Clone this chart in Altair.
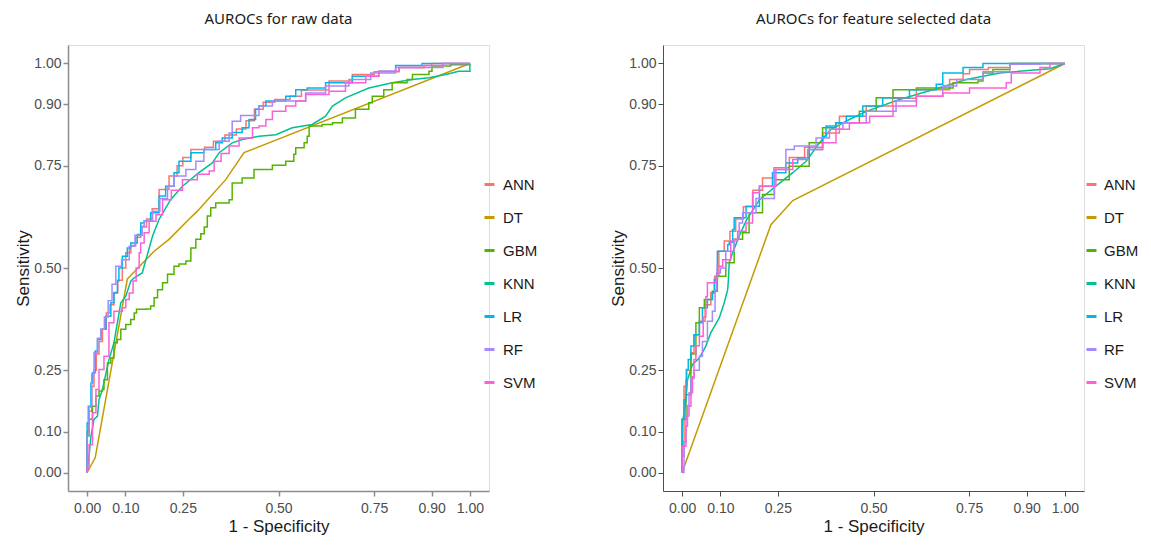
import altair as alt
import pandas as pd

MODELS = ["ANN", "DT", "GBM", "KNN", "LR", "RF", "SVM"]
COLORS = ["#F8766D", "#C49A00", "#53B400", "#00C094", "#00B6EB", "#A58AFF", "#FB61D7"]
TICKS = [0.0, 0.10, 0.25, 0.50, 0.75, 0.90, 1.00]
STEPPED = ["ANN", "GBM", "LR", "RF", "SVM"]
SMOOTH = ["DT", "KNN"]

# ---- raw data panel: (1 - specificity, sensitivity)
RAW_ANN = [(0, 0), (0, 0.10), (0.005, 0.15), (0.012, 0.21), (0.018, 0.25), (0.024, 0.29), (0.031, 0.32),
           (0.04, 0.35), (0.05, 0.39), (0.06, 0.41), (0.07, 0.44), (0.08, 0.47), (0.092, 0.50), (0.101, 0.537),
           (0.114, 0.555), (0.127, 0.575), (0.14, 0.60), (0.155, 0.62), (0.17, 0.645), (0.188, 0.692),
           (0.214, 0.725), (0.235, 0.75), (0.25, 0.77), (0.271, 0.79), (0.307, 0.795), (0.33, 0.81),
           (0.36, 0.825), (0.39, 0.84), (0.415, 0.86), (0.437, 0.888), (0.46, 0.905), (0.49, 0.912),
           (0.53, 0.92), (0.56, 0.935), (0.632, 0.957), (0.693, 0.973), (0.75, 0.98), (0.815, 0.99),
           (0.88, 0.995), (0.9, 1.0), (1, 1)]
RAW_DT = [(0, 0), (0.021, 0.036), (0.105, 0.473), (0.175, 0.541), (0.214, 0.570), (0.266, 0.619),
          (0.288, 0.639), (0.362, 0.716), (0.41, 0.782), (1, 1)]
RAW_GBM = [(0, 0), (0, 0.09), (0.005, 0.13), (0.014, 0.162), (0.023, 0.187), (0.031, 0.199), (0.04, 0.203),
           (0.044, 0.227), (0.053, 0.268), (0.062, 0.28), (0.07, 0.317), (0.079, 0.325), (0.088, 0.35),
           (0.101, 0.362), (0.114, 0.374), (0.123, 0.39), (0.129, 0.399), (0.153, 0.40), (0.166, 0.407),
           (0.175, 0.427), (0.184, 0.447), (0.197, 0.464), (0.21, 0.485), (0.227, 0.504), (0.24, 0.51),
           (0.258, 0.517), (0.271, 0.549), (0.284, 0.57), (0.297, 0.584), (0.306, 0.60), (0.314, 0.627),
           (0.323, 0.647), (0.336, 0.659), (0.371, 0.667), (0.379, 0.708), (0.405, 0.72), (0.436, 0.741),
           (0.484, 0.751), (0.519, 0.761), (0.54, 0.778), (0.545, 0.794), (0.567, 0.806), (0.575, 0.822),
           (0.58, 0.847), (0.614, 0.851), (0.641, 0.855), (0.667, 0.867), (0.701, 0.888), (0.736, 0.904),
           (0.745, 0.92), (0.775, 0.936), (0.797, 0.953), (0.836, 0.961), (0.85, 0.973), (0.893, 0.981),
           (0.901, 0.994), (0.95, 0.997), (1, 1)]
RAW_KNN = [(0, 0), (0.005, 0.04), (0.01, 0.089), (0.018, 0.13), (0.027, 0.138), (0.031, 0.178), (0.04, 0.203),
           (0.057, 0.276), (0.07, 0.317), (0.088, 0.415), (0.101, 0.431), (0.114, 0.468), (0.123, 0.476),
           (0.144, 0.488), (0.171, 0.578), (0.188, 0.619), (0.218, 0.667), (0.249, 0.70), (0.292, 0.733),
           (0.327, 0.757), (0.345, 0.782), (0.379, 0.806), (0.405, 0.814), (0.449, 0.822), (0.493, 0.826),
           (0.536, 0.843), (0.588, 0.851), (0.623, 0.871), (0.641, 0.896), (0.675, 0.916), (0.736, 0.94),
           (0.797, 0.953), (0.85, 0.961), (0.893, 0.965), (0.937, 0.973), (0.971, 0.981), (1.0, 0.981), (1, 1)]
RAW_LR = [(0, 0), (0, 0.121), (0.003, 0.162), (0.01, 0.219), (0.014, 0.244), (0.021, 0.297), (0.027, 0.325),
          (0.036, 0.35), (0.049, 0.382), (0.062, 0.415), (0.07, 0.439), (0.079, 0.468), (0.083, 0.50),
          (0.092, 0.529), (0.105, 0.549), (0.114, 0.561), (0.131, 0.582), (0.14, 0.61), (0.149, 0.615),
          (0.166, 0.635), (0.188, 0.676), (0.205, 0.70), (0.227, 0.733), (0.24, 0.761), (0.271, 0.782),
          (0.305, 0.79), (0.336, 0.806), (0.353, 0.818), (0.379, 0.831), (0.405, 0.843), (0.423, 0.863),
          (0.44, 0.888), (0.449, 0.896), (0.467, 0.908), (0.519, 0.92), (0.545, 0.936), (0.575, 0.94),
          (0.623, 0.953), (0.693, 0.969), (0.762, 0.981), (0.806, 0.995), (0.875, 1.0), (1, 1)]
RAW_RF = [(0, 0), (0, 0.089), (0.005, 0.16), (0.012, 0.24), (0.018, 0.293), (0.027, 0.328), (0.036, 0.35),
          (0.045, 0.38), (0.055, 0.42), (0.065, 0.46), (0.075, 0.504), (0.09, 0.52), (0.11, 0.553),
          (0.125, 0.58), (0.144, 0.602), (0.149, 0.615), (0.171, 0.639), (0.19, 0.67), (0.21, 0.70),
          (0.227, 0.725), (0.258, 0.741), (0.284, 0.761), (0.305, 0.79), (0.345, 0.81), (0.371, 0.83),
          (0.379, 0.859), (0.401, 0.873), (0.432, 0.873), (0.449, 0.896), (0.484, 0.908), (0.571, 0.928),
          (0.623, 0.945), (0.684, 0.961), (0.741, 0.977), (0.806, 0.99), (0.93, 1.0), (1, 1)]
RAW_SVM = [(0, 0), (0, 0.01), (0.005, 0.068), (0.014, 0.146), (0.023, 0.203), (0.031, 0.252), (0.044, 0.284),
           (0.057, 0.366), (0.07, 0.394), (0.092, 0.403), (0.101, 0.423), (0.11, 0.439), (0.12, 0.468),
           (0.128, 0.50), (0.136, 0.537), (0.14, 0.561), (0.149, 0.586), (0.162, 0.614), (0.18, 0.63),
           (0.197, 0.667), (0.22, 0.69), (0.249, 0.716), (0.288, 0.729), (0.319, 0.737), (0.332, 0.761),
           (0.35, 0.78), (0.371, 0.798), (0.397, 0.818), (0.432, 0.843), (0.449, 0.847), (0.467, 0.863),
           (0.484, 0.883), (0.519, 0.896), (0.545, 0.908), (0.571, 0.924), (0.632, 0.932), (0.675, 0.953),
           (0.728, 0.969), (0.762, 0.981), (0.815, 0.99), (0.88, 0.995), (0.93, 1.0), (1, 1)]

# ---- feature selected panel
FS_ANN = [(0, 0), (0, 0.04), (0.005, 0.211), (0.012, 0.25), (0.023, 0.293), (0.031, 0.337), (0.045, 0.37),
          (0.06, 0.41), (0.075, 0.44), (0.085, 0.48), (0.096, 0.541), (0.11, 0.566), (0.125, 0.59),
          (0.14, 0.62), (0.16, 0.65), (0.185, 0.69), (0.21, 0.72), (0.24, 0.745), (0.28, 0.77),
          (0.32, 0.795), (0.367, 0.83), (0.411, 0.871), (0.481, 0.896), (0.55, 0.915), (0.612, 0.936),
          (0.699, 0.961), (0.734, 0.975), (0.751, 0.985), (0.8, 0.99), (0.856, 1.0), (1, 1)]
FS_DT = [(0, 0), (0.232, 0.606), (0.289, 0.665), (1, 1)]
FS_GBM = [(0, 0), (0, 0.13), (0.01, 0.19), (0.023, 0.29), (0.036, 0.366), (0.045, 0.403), (0.058, 0.423),
          (0.079, 0.443), (0.092, 0.48), (0.114, 0.513), (0.136, 0.57), (0.158, 0.586), (0.175, 0.635),
          (0.21, 0.68), (0.241, 0.716), (0.28, 0.749), (0.332, 0.806), (0.367, 0.843), (0.402, 0.855),
          (0.463, 0.883), (0.507, 0.916), (0.551, 0.936), (0.612, 0.94), (0.708, 0.953), (0.773, 0.957),
          (0.786, 0.977), (0.812, 0.985), (0.856, 1.0), (1, 1)]
FS_KNN = [(0, 0), (0, 0.073), (0.001, 0.121), (0.01, 0.178), (0.014, 0.227), (0.027, 0.264), (0.045, 0.28),
          (0.062, 0.309), (0.075, 0.342), (0.097, 0.378), (0.11, 0.415), (0.119, 0.447), (0.121, 0.472),
          (0.123, 0.513), (0.132, 0.537), (0.149, 0.578), (0.167, 0.615), (0.202, 0.667), (0.245, 0.70),
          (0.289, 0.733), (0.324, 0.761), (0.359, 0.806), (0.389, 0.839), (0.437, 0.863), (0.481, 0.883),
          (0.568, 0.912), (0.655, 0.936), (0.743, 0.961), (0.83, 0.977), (0.961, 0.987), (1, 1)]
FS_LR = [(0, 0), (0, 0.13), (0.005, 0.178), (0.01, 0.227), (0.011, 0.252), (0.016, 0.276), (0.023, 0.309),
         (0.031, 0.337), (0.045, 0.366), (0.053, 0.403), (0.066, 0.423), (0.079, 0.439), (0.084, 0.472),
         (0.092, 0.541), (0.119, 0.557), (0.123, 0.563), (0.132, 0.594), (0.136, 0.623), (0.167, 0.651),
         (0.202, 0.70), (0.236, 0.733), (0.271, 0.757), (0.302, 0.769), (0.332, 0.79), (0.367, 0.822),
         (0.376, 0.847), (0.402, 0.855), (0.429, 0.871), (0.472, 0.896), (0.524, 0.916), (0.594, 0.936),
         (0.664, 0.949), (0.681, 0.977), (0.734, 0.99), (0.786, 1.0), (1, 1)]
FS_RF = [(0, 0), (0.005, 0.075), (0.01, 0.113), (0.014, 0.164), (0.018, 0.195), (0.023, 0.23), (0.031, 0.25),
         (0.045, 0.284), (0.053, 0.32), (0.066, 0.37), (0.079, 0.394), (0.086, 0.447), (0.09, 0.488),
         (0.1, 0.5), (0.114, 0.541), (0.136, 0.57), (0.149, 0.61), (0.158, 0.635), (0.193, 0.67),
         (0.241, 0.741), (0.271, 0.79), (0.293, 0.798), (0.319, 0.798), (0.35, 0.818), (0.385, 0.839),
         (0.42, 0.855), (0.481, 0.883), (0.559, 0.908), (0.612, 0.92), (0.681, 0.945), (0.717, 0.961),
         (0.786, 0.98), (0.856, 0.998), (0.935, 1.0), (1, 1)]
FS_SVM = [(0, 0), (0, 0.064), (0.01, 0.138), (0.018, 0.162), (0.023, 0.195), (0.027, 0.234), (0.031, 0.276),
          (0.036, 0.31), (0.045, 0.333), (0.055, 0.38), (0.062, 0.43), (0.066, 0.464), (0.088, 0.476),
          (0.092, 0.504), (0.106, 0.52), (0.127, 0.566), (0.145, 0.59), (0.167, 0.61), (0.184, 0.684),
          (0.202, 0.70), (0.245, 0.741), (0.289, 0.765), (0.328, 0.79), (0.367, 0.806), (0.402, 0.839),
          (0.437, 0.855), (0.49, 0.871), (0.551, 0.896), (0.612, 0.92), (0.681, 0.928), (0.751, 0.94),
          (0.847, 0.953), (0.86, 0.977), (0.935, 0.99), (0.961, 1.0), (1, 1)]

RAW = {"ANN": RAW_ANN, "DT": RAW_DT, "GBM": RAW_GBM, "KNN": RAW_KNN, "LR": RAW_LR, "RF": RAW_RF, "SVM": RAW_SVM}
FS = {"ANN": FS_ANN, "DT": FS_DT, "GBM": FS_GBM, "KNN": FS_KNN, "LR": FS_LR, "RF": FS_RF, "SVM": FS_SVM}


def frame(curves):
    rows = []
    for m, pts in curves.items():
        for i, (x, y) in enumerate(pts):
            rows.append({"model": m, "fpr": x, "tpr": y, "i": i})
    return pd.DataFrame(rows)


def panel(curves, title, axis_color, axis_width, legend_x, label_offset):
    df = frame(curves)
    color = alt.Color(
        "model:N",
        scale=alt.Scale(domain=MODELS, range=COLORS),
        legend=alt.Legend(title=None, orient="none", legendX=legend_x, legendY=132, padding=0,
                          symbolType="stroke", symbolStrokeWidth=3, symbolSize=100,
                          labelFontSize=15, labelFont="Liberation Sans", labelColor="#1a1a1a",
                          rowPadding=17, labelOffset=label_offset),
    )
    common_axis = dict(grid=False, domainColor=axis_color, domainWidth=axis_width, tickColor=axis_color,
                       tickWidth=axis_width, labelColor="#4d4d4d", labelFontSize=14, labelFont="Liberation Sans",
                       titleFont="Liberation Sans", titleFontWeight="normal", titleColor="#1a1a1a",
                       titleFontSize=17, values=TICKS, format=".2f", labelOverlap=False, labelFlush=False,
                       tickSize=5)
    x = alt.X("fpr:Q", scale=alt.Scale(domain=[-0.05, 1.05], nice=False, zero=False),
              axis=alt.Axis(title="1 - Specificity", labelPadding=5, titlePadding=3, **common_axis))
    y = alt.Y("tpr:Q", scale=alt.Scale(domain=[-0.0452, 1.0452], nice=False, zero=False),
              axis=alt.Axis(title="Sensitivity", labelPadding=2, titlePadding=1, **common_axis))
    base = alt.Chart(df).encode(x=x, y=y, color=color, order=alt.Order("i:Q"))
    smooth = base.transform_filter(alt.FieldOneOfPredicate(field="model", oneOf=SMOOTH)).mark_line(strokeWidth=1.5)
    stepped = base.transform_filter(alt.FieldOneOfPredicate(field="model", oneOf=STEPPED)).mark_line(
        interpolate="step-after", strokeWidth=1.5)
    return alt.layer(smooth, stepped).properties(
        width=421, height=446,
        title=alt.TitleParams(title, fontSize=15, font="Noto Sans", fontWeight="normal", color="#1a1a1a",
                              anchor="middle", frame="group", offset=18),
    )


left = panel(RAW, "AUROCs for raw data", "#8c8c8c", 1.5, 414, 6)
right = panel(FS, "AUROCs for feature selected data", "#4d4d4d", 1.0, 421, 5)

chart = alt.hconcat(left, right, spacing=70).resolve_scale(color="independent").resolve_legend(
    color="independent").properties(
    padding={"left": 6, "top": 3, "right": 0, "bottom": 0}
).configure_view(stroke=None).configure(background="white")

chart.save("out.html", embed_options={"renderer": "svg", "actions": False})
